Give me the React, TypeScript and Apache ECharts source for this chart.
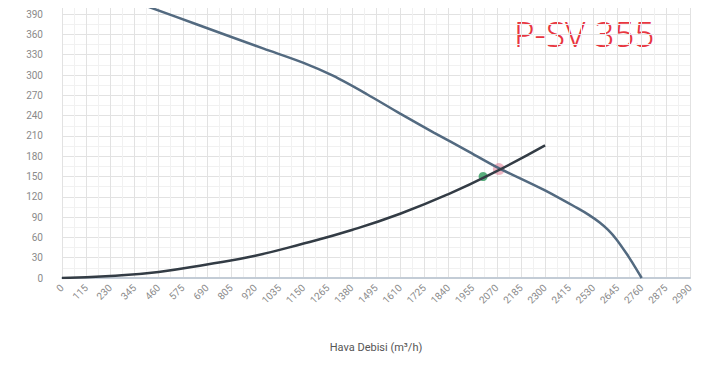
import React, { useEffect, useRef } from "react";
import * as echarts from "echarts";

const xTicks = [0, 115, 230, 345, 460, 575, 690, 805, 920, 1035, 1150, 1265, 1380, 1495, 1610, 1725, 1840, 1955, 2070, 2185, 2300, 2415, 2530, 2645, 2760, 2875, 2990];
const pumpFlow = [410, 640, 960, 1150, 1290, 1450, 1610, 1770, 1930, 2070, 2290, 2450, 2510, 2560, 2600, 2640, 2690, 2725, 2760];
const pumpHead = [401, 375, 339, 318, 299, 272, 243, 215, 188, 164, 131, 104, 93, 82, 71, 57, 35, 18, 0];
const sysFlow = [0, 230, 460, 690, 920, 1150, 1380, 1610, 1840, 2070, 2300];
const sysHead = [0, 3, 9, 20, 33, 51, 71, 95, 124, 158, 196];
const workPoint = [2005, 150];
const crossPoint = [2080, 161];
const title = "P-SV 355";
const xName = "Hava Debisi (m³/h)";

export default function App() {
  const ref = useRef<HTMLDivElement>(null);
  useEffect(() => {
    if (!ref.current) return;
    const chart = echarts.init(ref.current, undefined, { renderer: "svg" });
    chart.setOption({
      animation: false,
      backgroundColor: "#ffffff",
      grid: { left: 62, right: 11, top: 4, bottom: 91 },
      xAxis: {
        type: "value",
        min: 0,
        max: xTicks[xTicks.length - 1],
        interval: 115,
        name: xName,
        nameLocation: "middle",
        nameGap: 64,
        nameTextStyle: { color: "#555", fontSize: 11, fontFamily: "Roboto" },
        axisLine: { show: true, lineStyle: { color: "#c3ccd6", width: 2 } },
        axisTick: { show: false },
        axisLabel: {
          rotate: 45,
          color: "#8a8a8a",
          fontSize: 10,
          fontFamily: "Roboto",
          margin: 8,
          formatter: (v: number) => String(v),
        },
        splitLine: { show: true, lineStyle: { color: "#e2e2e2", width: 1 } },
        minorTick: { show: false, splitNumber: 2 },
        minorSplitLine: { show: true, lineStyle: { color: "#f1f1f1", width: 1 } },
      },
      yAxis: {
        type: "value",
        min: 0,
        max: 405,
        interval: 30,
        axisLine: { show: false },
        axisTick: { show: false },
        axisLabel: {
          color: "#8a8a8a",
          fontSize: 10,
          fontFamily: "Roboto",
          margin: 19,
          showMaxLabel: false,
          formatter: (v: number) => String(v),
        },
        splitLine: { show: true, lineStyle: { color: "#e2e2e2", width: 1 } },
        minorTick: { show: false, splitNumber: 2 },
        minorSplitLine: { show: true, lineStyle: { color: "#f1f1f1", width: 1 } },
      },
      series: [
        {
          type: "line",
          data: pumpFlow.map((f, i) => [f, pumpHead[i]]),
          smooth: 0.3,
          showSymbol: false,
          lineStyle: { color: "#536a80", width: 2.5 },
        },
        {
          type: "line",
          data: sysFlow.map((f, i) => [f, sysHead[i]]),
          smooth: true,
          showSymbol: false,
          lineStyle: { color: "#333c45", width: 2.5 },
        },
        {
          type: "scatter",
          data: [crossPoint],
          symbolSize: 12,
          itemStyle: { color: "rgba(214,90,120,0.55)" },
        },
        {
          type: "scatter",
          data: [workPoint],
          symbolSize: 9,
          itemStyle: { color: "#2f9a5c" },
        },
      ],
      graphic: [
        {
          type: "text",
          left: 514,
          top: 16,
          style: {
            text: title,
            fill: "#e8363f",
            fontSize: 35,
            fontWeight: 300,
            fontFamily: "Noto Sans",
          },
        },
      ],
    });
    return () => chart.dispose();
  }, []);
  return <div ref={ref} style={{ width: 701, height: 369, margin: -8 }} />;
}
